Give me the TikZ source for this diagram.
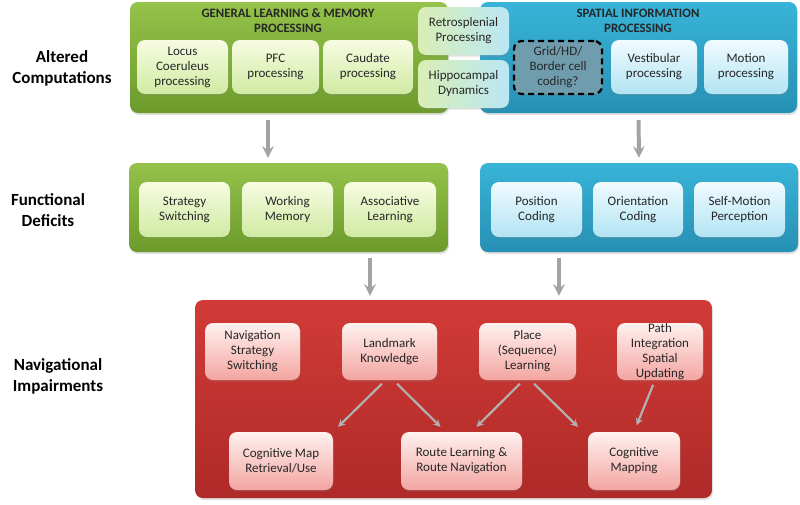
\documentclass[tikz,border=0pt]{standalone}
\usepackage{fontspec}
\setmainfont{Carlito}
\usetikzlibrary{positioning,shadows}

\definecolor{panelgreentop}{HTML}{94C24A}
\definecolor{panelgreenbot}{HTML}{6C9B2C}
\definecolor{panelbluetop}{HTML}{38B4D8}
\definecolor{panelbluebot}{HTML}{2690B4}
\definecolor{panelredtop}{HTML}{D23B37}
\definecolor{panelredbot}{HTML}{AE2A28}
\definecolor{cellgreentop}{HTML}{F7FCE2}
\definecolor{cellgreenbot}{HTML}{D0EAA2}
\definecolor{cellbluetop}{HTML}{F0FBFF}
\definecolor{cellbluebot}{HTML}{B2E4F4}
\definecolor{cellredtop}{HTML}{FFF1EF}
\definecolor{cellredbot}{HTML}{F3A5A1}
\definecolor{gridfill}{HTML}{6F9DAD}
\definecolor{arrowgray}{HTML}{A3A3A3}

\tikzset{
  panel/.style={rounded corners=8pt, inner sep=0pt,
    drop shadow={shadow xshift=1pt, shadow yshift=-2pt, opacity=0.25}},
  greenpanel/.style={panel, top color=panelgreentop, bottom color=panelgreenbot},
  bluepanel/.style={panel, top color=panelbluetop, bottom color=panelbluebot},
  redpanel/.style={panel, top color=panelredtop, bottom color=panelredbot},
  paneltitle/.style={align=center, text=black!85, font=\bfseries\fontsize{12.8}{15}\selectfont},
  cell/.style={rounded corners=8pt, align=center, inner sep=0pt, text=black!85,
    font=\fontsize{13}{15}\selectfont,
    drop shadow={shadow xshift=0.5pt, shadow yshift=-1.5pt, opacity=0.25}},
  greencell/.style={cell, top color=cellgreentop, bottom color=cellgreenbot},
  bluecell/.style={cell, top color=cellbluetop, bottom color=cellbluebot},
  redcell/.style={cell, top color=cellredtop, bottom color=cellredbot},
  mixcell/.style={cell, left color=cellgreenbot!80!white, right color=cellbluebot!90!white},
  rowlabel/.style={align=center, font=\bfseries\fontsize{17}{21}\selectfont},
  bigarrow/.style={->, draw=arrowgray, line width=4pt},
  smallarrow/.style={->, draw=arrowgray!85!white, line width=2.2pt, shorten <=5pt, shorten >=7pt}
}

\begin{document}
\begin{tikzpicture}[x=1pt, y=-1pt, >=stealth]
  \useasboundingbox (0,0) rectangle (800,504);

  % row labels
  \node[rowlabel] (lblaltered) at (62,68) {Altered\\Computations};
  \node[rowlabel] (lblfunc) at (48,210) {Functional\\Deficits};
  \node[rowlabel] (lblnav) at (58,376) {Navigational\\Impairments};

  % altered computations
  \node[greenpanel, minimum width=318, minimum height=111] (glm) at (289,57.5) {};
  \node[bluepanel, minimum width=317, minimum height=111] (spatial) at (638.5,57.5) {};
  \node[paneltitle] (glmtitle) at (288,20.5) {GENERAL LEARNING \& MEMORY\\PROCESSING};
  \node[paneltitle] (spatialtitle) at (638,20.5) {SPATIAL INFORMATION\\PROCESSING};

  \node[greencell, minimum width=91, minimum height=54] (locus) at (182.5,67) {Locus\\Coeruleus\\processing};
  \node[greencell, minimum width=87, minimum height=54] (pfc) at (275.5,67) {PFC\\processing};
  \node[greencell, minimum width=90, minimum height=54] (caudate) at (368,67) {Caudate\\processing};

  \node[mixcell, minimum width=91, minimum height=48] (retro) at (463.5,31) {Retrosplenial\\Processing};
  \node[mixcell, minimum width=91, minimum height=48] (hippo) at (463.5,84) {Hippocampal\\Dynamics};

  \node[cell, fill=gridfill, draw=black, line width=2.2pt, dash pattern=on 6pt off 4pt,
    minimum width=88, minimum height=53] (grid) at (558,67.5) {Grid/HD/\\Border cell\\coding?};
  \node[bluecell, minimum width=86, minimum height=54] (vestib) at (654,67) {Vestibular\\processing};
  \node[bluecell, minimum width=84, minimum height=54] (motion) at (746,67) {Motion\\processing};

  % functional deficits
  \node[greenpanel, minimum width=319, minimum height=89] (funcgreen) at (288.5,207.5) {};
  \node[bluepanel, minimum width=318, minimum height=89] (funcblue) at (639,207.5) {};

  \node[greencell, minimum width=91, minimum height=55] (strategy) at (184.5,209.5) {Strategy\\Switching};
  \node[greencell, minimum width=91, minimum height=55] (working) at (287.5,209.5) {Working\\Memory};
  \node[greencell, minimum width=92, minimum height=55] (assoc) at (390,209.5) {Associative\\Learning};
  \node[bluecell, minimum width=91, minimum height=55] (position) at (536.5,209.5) {Position\\Coding};
  \node[bluecell, minimum width=90, minimum height=55] (orient) at (638,209.5) {Orientation\\Coding};
  \node[bluecell, minimum width=91, minimum height=55] (selfmotion) at (739.5,209.5) {Self-Motion\\Perception};

  % navigational impairments
  \node[redpanel, minimum width=517, minimum height=198] (navpanel) at (453.5,399) {};

  \node[redcell, minimum width=95, minimum height=57] (navswitch) at (252.5,351.5) {Navigation\\Strategy\\Switching};
  \node[redcell, minimum width=95, minimum height=57] (landmark) at (389.5,351.5) {Landmark\\Knowledge};
  \node[redcell, minimum width=97, minimum height=57] (place) at (527.5,351.5) {Place\\(Sequence)\\Learning};
  \node[redcell, minimum width=86, minimum height=57] (pathint) at (660,351.5) {Path\\Integration\\Spatial\\Updating};

  \node[redcell, minimum width=104, minimum height=58] (cogmap) at (281,461) {Cognitive Map\\Retrieval/Use};
  \node[redcell, minimum width=121, minimum height=58] (route) at (461.5,461) {Route Learning \&\\Route Navigation};
  \node[redcell, minimum width=92, minimum height=58] (cogmapping) at (634,461) {Cognitive\\Mapping};

  % arrows between rows
  \coordinate (glmout) at (268,0);
  \coordinate (glmnav) at (370,0);
  \coordinate (spanav) at (559,0);
  \draw[bigarrow, shorten <=7pt, shorten >=5pt] (glmout |- glm.south) -- (glmout |- funcgreen.north);
  \draw[bigarrow, shorten <=7pt, shorten >=5pt] (spatial.south) -- (funcblue.north);
  \draw[bigarrow, shorten <=6pt, shorten >=4pt] (glmnav |- funcgreen.south) -- (glmnav |- navpanel.north);
  \draw[bigarrow, shorten <=6pt, shorten >=4pt] (spanav |- funcblue.south) -- (spanav |- navpanel.north);

  % arrows inside navigational impairments
  \draw[smallarrow] ([xshift=-4pt]landmark.south) -- ([xshift=52pt]cogmap.north);
  \draw[smallarrow] ([xshift=4pt]landmark.south) -- ([xshift=-16pt]route.north);
  \draw[smallarrow] ([xshift=-4pt]place.south) -- ([xshift=10pt]route.north);
  \draw[smallarrow] ([xshift=3pt]place.south) -- ([xshift=-51pt]cogmapping.north);
  \draw[smallarrow] ([xshift=-5pt]pathint.south) -- (cogmapping.north);
\end{tikzpicture}
\end{document}
